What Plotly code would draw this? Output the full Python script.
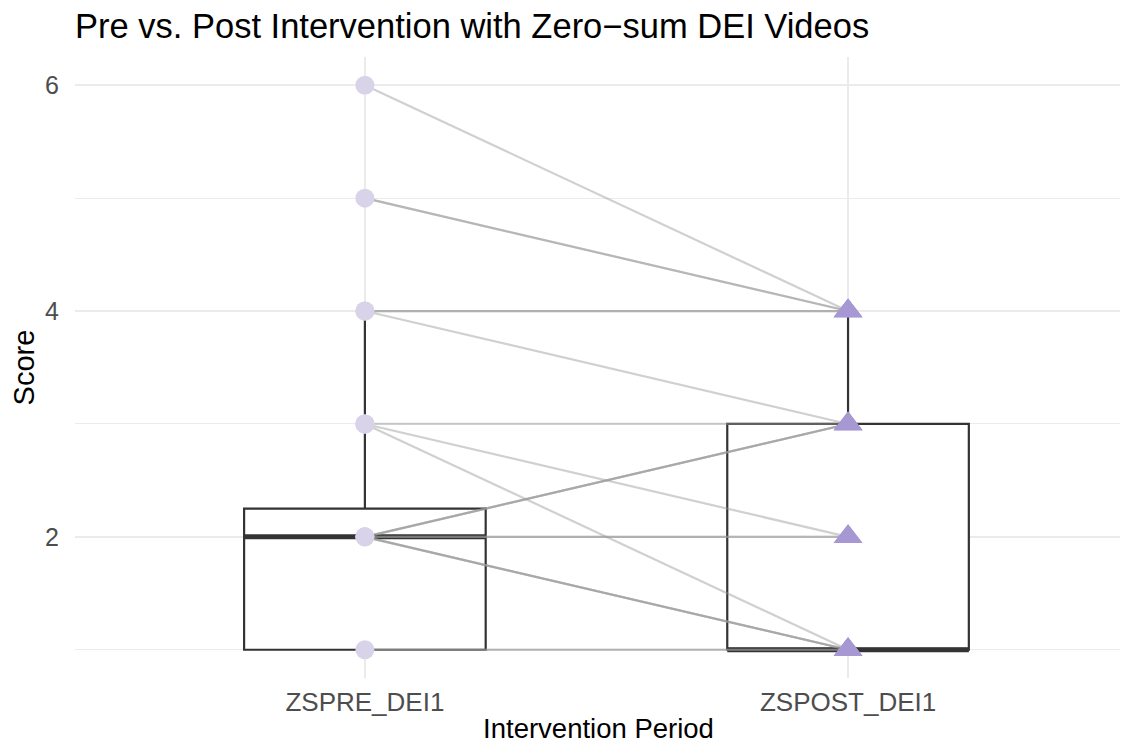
import plotly.graph_objects as go

# ---- data ----
categories = ["ZSPRE_DEI1", "ZSPOST_DEI1"]
cat_pos = [1, 2]

# paired observations (pre -> post) and how many subjects share each pair
pair_pre = [6, 5, 4, 4, 3, 3, 3, 2, 2, 2, 1]
pair_post = [4, 4, 4, 3, 3, 2, 1, 3, 2, 1, 1]
pair_count = [1, 2, 2, 1, 1, 1, 1, 3, 2, 3, 2]

# boxplot statistics
box_lower = [1, 1]
box_q1 = [1, 1]
box_median = [2, 1]
box_q3 = [2.25, 3]
box_upper = [4, 4]

y_ticks = [2, 4, 6]

title = "Pre vs. Post Intervention with Zero\u2212sum DEI Videos"
x_title = "Intervention Period"
y_title = "Score"

# ---- style ----
FONT = "Liberation Sans, Arial, sans-serif"
BOX_W = 0.5
BOX_LINE = "#333333"
LINE_COL = "rgba(153,153,153,0.46)"
PRE_COL = "#D9D3EA"
POST_COL = "#A797D3"
GRID = "#EBEBEB"
W, H = 1128, 747
OFF = 8  # page body margin offset

fig = go.Figure()

fig.add_trace(go.Box(
    x=cat_pos, q1=box_q1, median=box_median, q3=box_q3,
    lowerfence=box_lower, upperfence=box_upper,
    width=BOX_W, fillcolor="white", whiskerwidth=0,
    line=dict(color=BOX_LINE, width=2.2), boxpoints=False,
    showlegend=False, hoverinfo="skip",
))

# thicker median bars
for p, m in zip(cat_pos, box_median):
    fig.add_trace(go.Scatter(
        x=[p - BOX_W / 2, p + BOX_W / 2], y=[m, m], mode="lines",
        line=dict(color=BOX_LINE, width=5), showlegend=False, hoverinfo="skip",
    ))

# paired lines (one per subject, semi-transparent so overlaps darken)
for a, b, n in zip(pair_pre, pair_post, pair_count):
    for _ in range(n):
        fig.add_trace(go.Scatter(
            x=cat_pos, y=[a, b], mode="lines",
            line=dict(color=LINE_COL, width=2.2),
            showlegend=False, hoverinfo="skip",
        ))

# points
fig.add_trace(go.Scatter(
    x=[cat_pos[0]] * len(pair_pre), y=pair_pre, mode="markers",
    marker=dict(symbol="circle", size=19, color=PRE_COL, line=dict(width=0)),
    showlegend=False, hoverinfo="skip",
))
fig.add_trace(go.Scatter(
    x=[cat_pos[1]] * len(pair_post), y=pair_post, mode="markers",
    marker=dict(symbol="triangle-up", size=25, color=POST_COL, line=dict(width=0)),
    showlegend=False, hoverinfo="skip",
))

fig.update_layout(
    width=W, height=H,
    margin=dict(l=75 - OFF, r=W - (1122 - OFF), t=57 - OFF, b=H - (678 - OFF)),
    paper_bgcolor="white", plot_bgcolor="white",
    font=dict(family=FONT, color="black"),
    title=dict(text=title, x=(75 - OFF) / W, xanchor="left",
               y=1 - (26 - OFF) / H, yanchor="middle",
               font=dict(size=34.5, color="black", family=FONT)),
    showlegend=False,
)
fig.update_xaxes(
    range=[0.4, 2.567], tickvals=cat_pos, ticktext=categories,
    showgrid=True, gridcolor=GRID, gridwidth=2, zeroline=False, showline=False,
    ticks="", ticklabelstandoff=6, automargin=False,
    tickfont=dict(size=26, color="#4D4D4D", family=FONT),
    title=dict(text=x_title, font=dict(size=27.5, color="black", family=FONT), standoff=2),
)
fig.update_yaxes(
    range=[0.75, 6.25], tickvals=y_ticks,
    showgrid=True, gridcolor=GRID, gridwidth=2, zeroline=False, showline=False,
    ticks="", ticklabelstandoff=15, automargin=False,
    minor=dict(dtick=1, tick0=1, showgrid=True, gridcolor=GRID, gridwidth=1),
    tickfont=dict(size=25, color="#4D4D4D", family=FONT),
    title=dict(text=y_title, font=dict(size=29, color="black", family=FONT), standoff=8),
)

fig.write_html("out.html")
